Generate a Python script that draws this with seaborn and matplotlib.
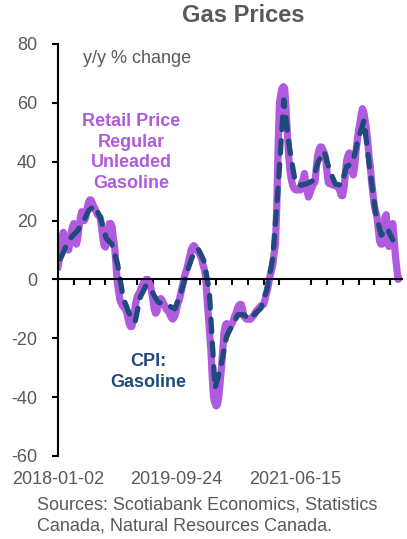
import numpy as np
import pandas as pd
import matplotlib
matplotlib.use("Agg")
import matplotlib.pyplot as plt
import matplotlib.dates as mdates
import matplotlib.ticker as mticker
import seaborn as sns

# --- data: y/y % change ---
# weekly retail price, regular unleaded gasoline (from 2018-01-02)
retail_yoy = [
    4, 7, 11, 14, 16, 14, 12, 10.5, 10, 12,
    16, 18, 19, 16, 12, 14, 18, 21, 23, 22,
    20, 21, 24, 26, 27, 27, 26, 25, 24, 23,
    22, 21.5, 21, 18, 14, 11.5, 11, 14, 17, 19,
    19, 18, 14, 11, 5, -1, -4, -7, -8, -9,
    -9.5, -10, -11, -13, -15, -16, -16, -14, -11, -8,
    -6, -5, -4.5, -3, -2, -1, -0.5, 0, 0, -1,
    -2, -4, -7, -10, -11.5, -11, -9, -7, -6.5, -7,
    -8, -9, -10, -10.5, -11, -12, -13, -13.5, -13, -12,
    -10, -8, -7, -5, -3, -1, 1, 2.5, 4, 6,
    8, 10, 11, 11.5, 11, 10, 9.5, 9, 8, 7,
    5, 3.5, 1, -6, -12, -18, -24, -33, -40, -42,
    -43, -42.5, -40, -35, -30, -24, -18, -15.5, -15, -15.5,
    -16, -16, -15, -14, -12.5, -11.5, -10, -9, -8.5, -8.5,
    -10, -12.5, -13, -13.5, -13.5, -13.5, -13.5, -13, -12.5, -12,
    -11, -10.5, -10, -9.5, -9, -8.7, -8.5, -7, -5, -3.5,
    -1, 1.5, 3, 5, 9, 12, 25, 45, 60, 63,
    65, 65.5, 65, 58, 50, 42, 37, 34, 32, 31,
    30.5, 30.4, 30.4, 31, 30.4, 33, 34, 36, 33, 30,
    28, 29, 30.5, 31.5, 33, 33, 38, 42, 44, 45,
    45, 44, 43, 41.5, 37, 33, 32.5, 32.5, 32.5, 32,
    32, 32, 31.5, 31, 30, 28.5, 28.5, 31, 36, 40.5,
    42, 43, 40, 37, 35.5, 38, 43, 47, 50.5, 53,
    56, 58, 57, 54, 51, 47, 42, 38, 33, 29,
    25, 23, 21.5, 17, 13, 12, 12, 16, 21, 22,
    16, 11.2, 13.4, 16, 19, 14, 8, 4, 0, 0.4,
]

# monthly CPI: gasoline (Jan 2018 - Nov 2022)
cpi_yoy = [
    7, 11.5, 14.5, 16.5, 19.5, 23.5, 25, 21, 14, 12, 5, -6.5,
    -11.5, -14.5, -6, -2, -4, -7.5, -8.5, -9, -10, -5, 2, 7.5,
    10.5, 6.5, -3.6, -37, -30, -19.5, -15.5, -12, -12, -13.5, -11.5, -9.8,
    -3.5, 7, 30, 61, 45, 33, 32, 32.5, 33.5, 40, 43.5, 37,
    32.3, 32.1, 38.4, 39.5, 47.5, 54, 38, 23, 15, 17.5, 13.4,
]

x_tick_labels = ["2018-01-02", "2019-09-24", "2021-06-15"]

retail_dates = pd.date_range("2018-01-02", periods=len(retail_yoy), freq="7D")
cpi_dates = pd.date_range("2018-01-01", periods=len(cpi_yoy), freq="MS") + pd.Timedelta(days=14)

retail_df = pd.DataFrame({"date": retail_dates, "value": retail_yoy})
cpi_df = pd.DataFrame({"date": cpi_dates, "value": cpi_yoy})

PURPLE = "#B05BDE"
NAVY = "#1F4A7C"
GREY = "#595959"

sns.set_theme(style="white")
plt.rcParams["font.family"] = ["Liberation Sans", "DejaVu Sans"]
plt.rcParams["axes.unicode_minus"] = False

fig = plt.figure(figsize=(4.07, 5.39), dpi=100)
ax = fig.add_axes([58 / 407, 1 - 456 / 539, 344 / 407, 412 / 539])

sns.lineplot(data=retail_df, x="date", y="value", ax=ax, color=PURPLE,
             linewidth=5.2, solid_capstyle="round", solid_joinstyle="round")
sns.lineplot(data=cpi_df, x="date", y="value", ax=ax, color=NAVY,
             linewidth=3.8, linestyle=(0, (2.4, 2.1)), dash_capstyle="round")

ax.set_ylim(-60, 80)
ax.set_xlim(pd.Timestamp("2018-01-02"), pd.Timestamp("2023-01-03"))
ax.set_yticks(np.arange(-60, 81, 20))
ax.set_xlabel("")
ax.set_ylabel("")

# axis lines
for side in ["top", "right"]:
    ax.spines[side].set_visible(False)
ax.spines["left"].set_color("black")
ax.spines["left"].set_linewidth(1.5)
ax.spines["bottom"].set_position(("data", 0))
ax.spines["bottom"].set_color("black")
ax.spines["bottom"].set_linewidth(1.5)

ax.tick_params(axis="y", direction="out", length=4, width=1.5, color="black",
               labelsize=13, labelcolor=GREY, pad=11, left=True)

# labels every 90 weeks, sitting below the plot; small ticks on the zero line
ax.set_xticks([mdates.date2num(retail_dates[i]) for i in (0, 90, 180)])
ax.set_xticklabels(x_tick_labels)
ax.tick_params(axis="x", which="major", length=0, labelsize=13, labelcolor=GREY, pad=138)
ax.xaxis.set_minor_locator(mticker.FixedLocator(mdates.date2num(retail_dates[12::12])))
ax.tick_params(axis="x", which="minor", direction="out", length=4, width=1.5,
               color="black", bottom=True)

ax.text(0.073, 0.966, "y/y % change", transform=ax.transAxes, ha="left", va="center",
        fontsize=13, color=GREY)
ax.text(0.214, 0.737, "Retail Price\nRegular\nUnleaded\nGasoline", transform=ax.transAxes,
        ha="center", va="center", fontsize=13, fontweight="bold", color=PURPLE,
        linespacing=1.27)
ax.text(0.262, 0.204, "CPI:\nGasoline", transform=ax.transAxes, ha="center", va="center",
        fontsize=13, fontweight="bold", color=NAVY, linespacing=1.27)

fig.text(243 / 407, 1 - 15 / 539, "Gas Prices", ha="center", va="center",
         fontsize=17, fontweight="bold", color=GREY)
fig.text(37 / 407, 1 - 515.5 / 539,
         "Sources: Scotiabank Economics, Statistics\nCanada, Natural Resources Canada.",
         ha="left", va="center", fontsize=13, color=GREY, linespacing=1.27)

fig.savefig("out.png", dpi=100)
